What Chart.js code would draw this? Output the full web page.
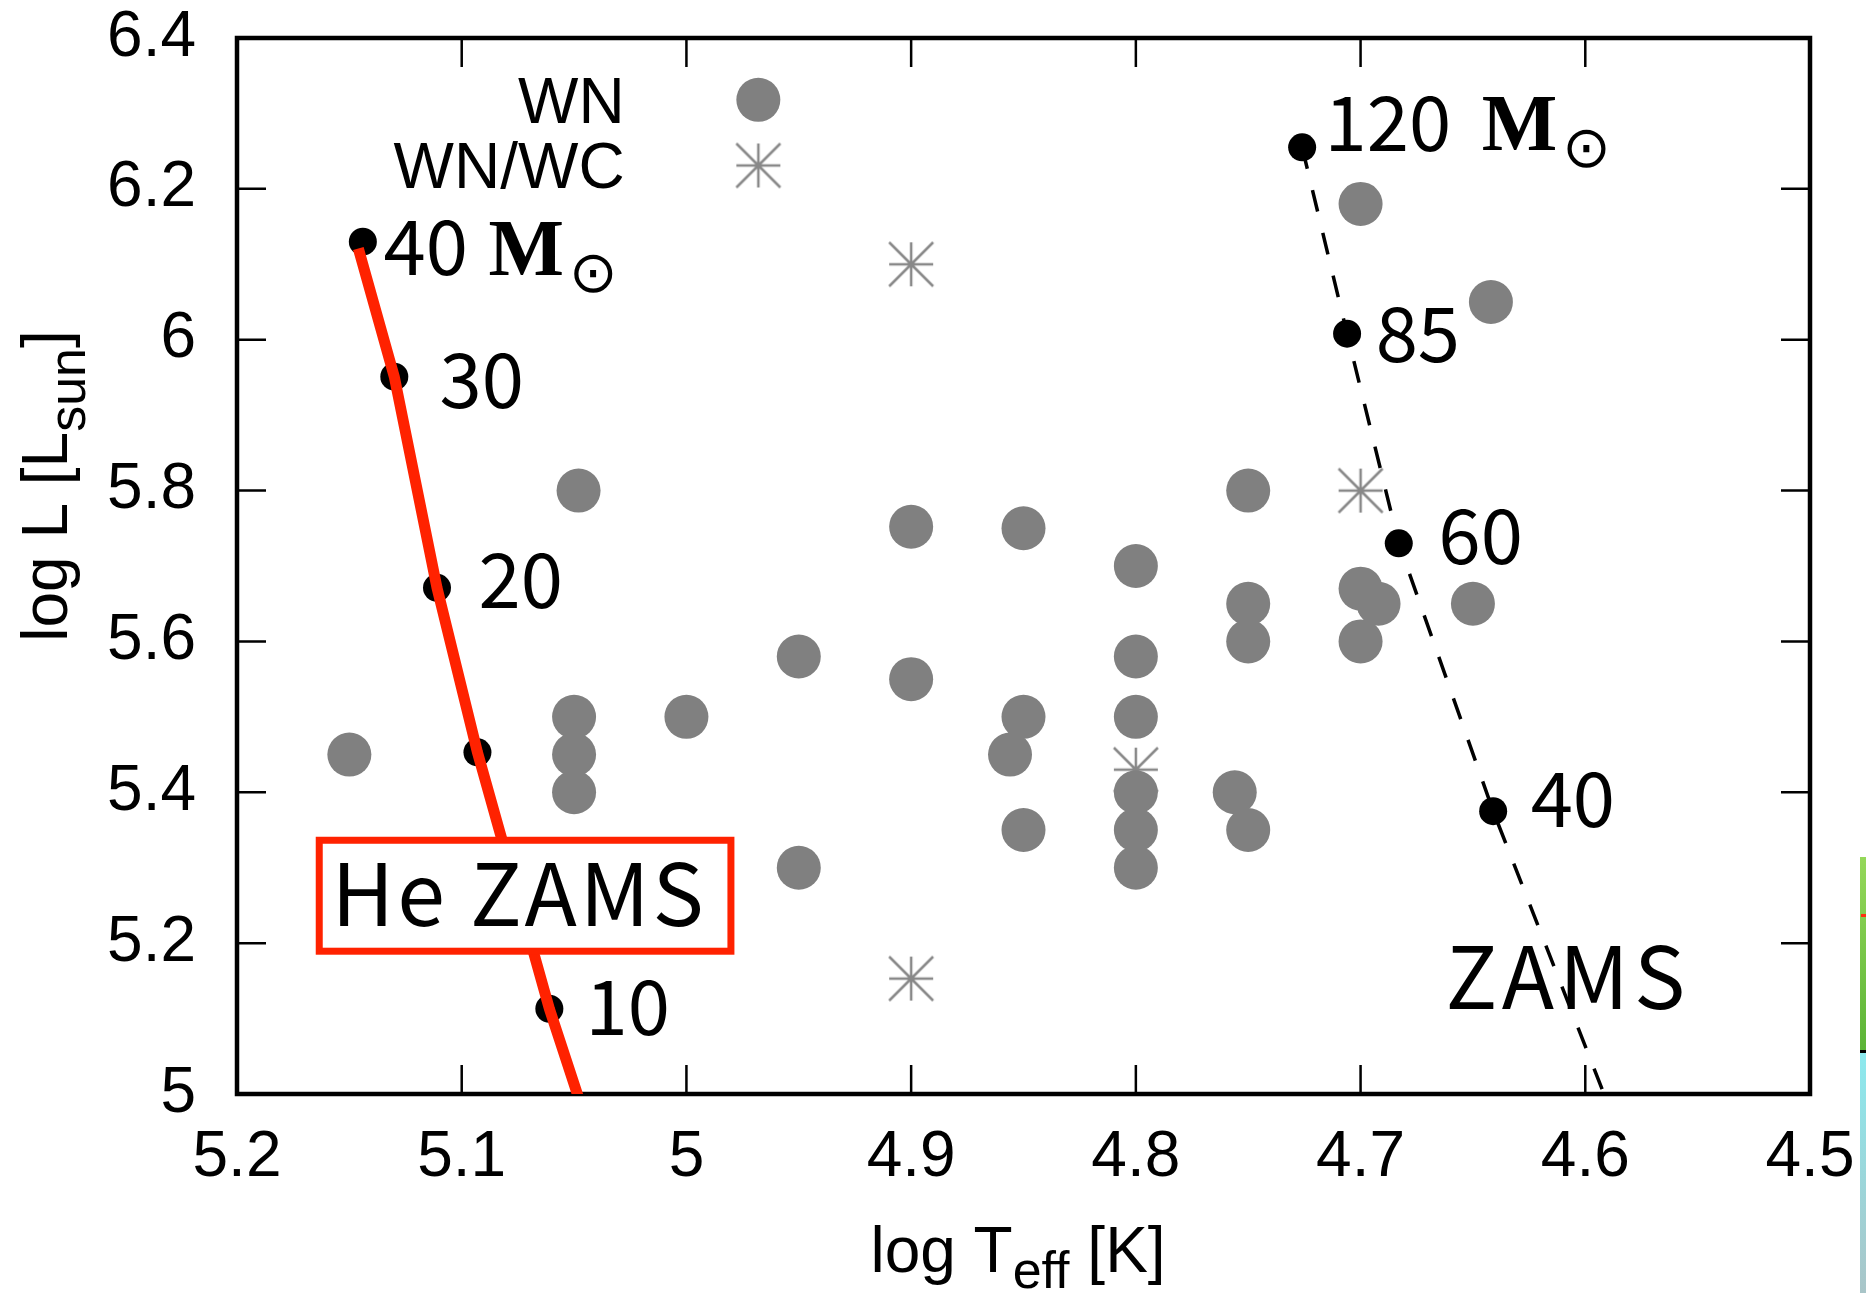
<!DOCTYPE html>
<html>
<head>
<meta charset="utf-8">
<title>HR diagram WN stars</title>
<script src="https://cdn.jsdelivr.net/npm/chart.js@4.4.1/dist/chart.umd.min.js"></script>
<style>
  html, body { margin: 0; padding: 0; background: #fff; }
  #wrap { width: 1866px; height: 1293px; }
</style>
</head>
<body>
<div id="wrap"><canvas id="hr"></canvas></div>
<script>
// WN stars (gray discs): log Teff, log L
const wnTeff = [4.70, 4.642, 5.048, 4.90, 4.85, 4.75, 4.80, 4.75, 4.75, 4.70, 4.692, 4.70, 4.65,
  4.95, 4.90, 4.80, 5.00, 5.05, 5.05, 5.05, 5.15, 4.85, 4.856, 4.80, 4.80, 4.80, 4.80, 4.85, 4.756, 4.75, 4.95];
const wnLum = [6.18, 6.05, 5.80, 5.752, 5.75, 5.80, 5.70, 5.65, 5.60, 5.67, 5.65, 5.60, 5.65,
  5.58, 5.55, 5.58, 5.50, 5.50, 5.45, 5.40, 5.45, 5.50, 5.45, 5.50, 5.40, 5.35, 5.30, 5.35, 5.40, 5.35, 5.30];

// WN/WC stars (asterisks)
const wcTeff = [4.90, 4.70, 4.80, 4.90];
const wcLum = [6.10, 5.80, 5.43, 5.153];

// He ZAMS (red line) and its mass marks
const heLineTeff = [5.146, 5.130, 5.111, 5.093, 5.061, 5.048];
const heLineLum = [6.121, 5.951, 5.671, 5.453, 5.113, 4.995];
const heMarkTeff = [5.144, 5.130, 5.111, 5.093, 5.061];
const heMarkLum = [6.130, 5.951, 5.671, 5.453, 5.113];

// H ZAMS (dashed) and its mass marks
const zLineTeff = [4.726, 4.706, 4.683, 4.641, 4.591];
const zLineLum = [6.255, 6.008, 5.730, 5.375, 4.995];
const zMarkTeff = [4.726, 4.706, 4.683, 4.641];
const zMarkLum = [6.255, 6.008, 5.730, 5.375];

// mass labels (text origin / baseline in data units)
const heLabelText = ['40', '30', '20', '10'];
const heLabelTeff = [5.1348, 5.1099, 5.0925, 5.0449];
const heLabelLum = [6.0859, 5.9096, 5.6445, 5.0786];
const zLabelText = ['120', '85', '60', '40'];
const zLabelTeff = [4.7160, 4.6933, 4.6653, 4.6243];
const zLabelLum = [6.2502, 5.9706, 5.7022, 5.3535];
// "M_sun" after the first label of each track
const sunTeff = [5.0881, 4.6461];
const sunLum = [6.0859, 6.2516];

// axes
const xTicks = [5.2, 5.1, 5.0, 4.9, 4.8, 4.7, 4.6, 4.5];
const xTickLabels = ['5.2', '5.1', '5', '4.9', '4.8', '4.7', '4.6', '4.5'];
const yTicks = [5.0, 5.2, 5.4, 5.6, 5.8, 6.0, 6.2, 6.4];
const yTickLabels = ['5', '5.2', '5.4', '5.6', '5.8', '6', '6.2', '6.4'];

const sans = "'Liberation Sans', Arial, Helvetica, sans-serif";
const jp = "'Noto Sans CJK JP', 'Noto Sans', sans-serif";

const pts = (xs, ys) => xs.map((v, i) => ({ x: v, y: ys[i] }));

function makeStar(r, lw, color) {
  const c = document.createElement('canvas');
  const s = 2 * r + 4;
  c.width = s;
  c.height = s;
  const g = c.getContext('2d');
  const m = s / 2;
  g.strokeStyle = color;
  g.lineWidth = lw;
  g.beginPath();
  g.moveTo(m - r, m); g.lineTo(m + r, m);
  g.moveTo(m, m - r); g.lineTo(m, m + r);
  g.moveTo(m - r, m - r); g.lineTo(m + r, m + r);
  g.moveTo(m + r, m - r); g.lineTo(m - r, m + r);
  g.stroke();
  return c;
}
const star = makeStar(22, 2.5, '#888888');

// frame + inward ticks on all four sides (gnuplot style)
const frameTicks = {
  id: 'frameTicks',
  beforeDatasetsDraw(chart) {
    const { ctx, chartArea: a, scales: { x, y } } = chart;
    ctx.save();
    ctx.strokeStyle = '#000';
    ctx.lineWidth = 2.5;
    ctx.beginPath();
    xTicks.forEach(v => {
      const px = x.getPixelForValue(v);
      ctx.moveTo(px, a.bottom); ctx.lineTo(px, a.bottom - 29);
      ctx.moveTo(px, a.top); ctx.lineTo(px, a.top + 29);
    });
    yTicks.forEach(v => {
      const py = y.getPixelForValue(v);
      ctx.moveTo(a.left, py); ctx.lineTo(a.left + 29, py);
      ctx.moveTo(a.right, py); ctx.lineTo(a.right - 29, py);
    });
    ctx.stroke();
    ctx.lineWidth = 4.5;
    ctx.strokeRect(a.left, a.top, a.width, a.height);
    ctx.restore();
  }
};

function drawParts(ctx, parts, x0, y0) {
  let x = x0;
  parts.forEach(p => {
    ctx.font = p.font;
    ctx.fillText(p.t, x, y0 + (p.dy || 0));
    x += ctx.measureText(p.t).width;
  });
}
function partsWidth(ctx, parts) {
  return parts.reduce((w, p) => { ctx.font = p.font; return w + ctx.measureText(p.t).width; }, 0);
}

const notes = {
  id: 'notes',
  afterDatasetsDraw(chart) {
    const { ctx, chartArea: a, scales: { x, y } } = chart;
    ctx.save();
    ctx.fillStyle = '#000';
    ctx.textAlign = 'left';
    ctx.textBaseline = 'alphabetic';

    ctx.font = '76px ' + jp;
    heLabelText.forEach((t, i) => ctx.fillText(t, x.getPixelForValue(heLabelTeff[i]), y.getPixelForValue(heLabelLum[i])));
    zLabelText.forEach((t, i) => ctx.fillText(t, x.getPixelForValue(zLabelTeff[i]), y.getPixelForValue(zLabelLum[i])));

    // M_sun
    sunTeff.forEach((v, i) => {
      const px = x.getPixelForValue(v);
      const py = y.getPixelForValue(sunLum[i]);
      ctx.font = 'bold 80px "Liberation Serif", "Times New Roman", serif';
      ctx.textBaseline = 'alphabetic';
      ctx.fillText('M', px, py);
      const w = ctx.measureText('M').width;
      ctx.font = '58px "DejaVu Sans", sans-serif';
      ctx.textBaseline = 'middle';
      ctx.fillText('\u2299', px + w + 5, py + 2);
    });
    ctx.textBaseline = 'alphabetic';

    // ZAMS label
    ctx.font = '86px ' + jp;
    ctx.letterSpacing = '5px';
    ctx.fillText('ZAMS', x.getPixelForValue(4.6622), y.getPixelForValue(5.113));

    // He ZAMS boxed label
    const bx0 = x.getPixelForValue(5.1634), bx1 = x.getPixelForValue(4.9802);
    const by0 = y.getPixelForValue(5.3364), by1 = y.getPixelForValue(5.1893);
    ctx.fillStyle = '#fff';
    ctx.fillRect(bx0, by0, bx1 - bx0, by1 - by0);
    ctx.strokeStyle = '#ff2200';
    ctx.lineWidth = 7;
    ctx.strokeRect(bx0, by0, bx1 - bx0, by1 - by0);
    ctx.fillStyle = '#000';
    ctx.letterSpacing = '3px';
    ctx.fillText('He ZAMS', x.getPixelForValue(5.1579), y.getPixelForValue(5.2231));
    ctx.letterSpacing = '0px';

    // key
    ctx.font = '64px ' + sans;
    ctx.textAlign = 'right';
    const kx = x.getPixelForValue(5.0275);
    ctx.fillText('WN', kx, y.getPixelForValue(6.2877));
    ctx.fillText('WN/WC', kx, y.getPixelForValue(6.2012));
    ctx.fillStyle = '#808080';
    ctx.beginPath();
    ctx.arc(x.getPixelForValue(4.968), y.getPixelForValue(6.318), 22, 0, Math.PI * 2);
    ctx.fill();
    ctx.drawImage(star, x.getPixelForValue(4.968) - star.width / 2, y.getPixelForValue(6.231) - star.height / 2);

    // axis titles
    ctx.fillStyle = '#000';
    ctx.textAlign = 'left';
    const main = '64px ' + sans, sub = '52px ' + sans;
    const yt = [{ t: 'log L [L', font: main }, { t: 'sun', font: sub, dy: 18 }, { t: ']', font: main }];
    ctx.save();
    ctx.translate(a.left - 170, a.top + 448);
    ctx.rotate(-Math.PI / 2);
    drawParts(ctx, yt, -partsWidth(ctx, yt) / 2, 0);
    ctx.restore();
    const xt = [{ t: 'log T', font: main }, { t: 'eff', font: sub, dy: 16 }, { t: ' [K]', font: main }];
    drawParts(ctx, xt, a.left + 781 - partsWidth(ctx, xt) / 2, a.bottom + 178);
    ctx.restore();
  },
  afterDraw(chart) {
    // coloured strip at the right edge of the source picture
    const { ctx } = chart;
    ctx.save();
    const g1 = ctx.createLinearGradient(0, 857, 0, 1051);
    g1.addColorStop(0, '#95d85a');
    g1.addColorStop(1, '#5bb437');
    ctx.fillStyle = g1;
    ctx.fillRect(1860, 857, 6, 194);
    ctx.fillStyle = '#ff3010';
    ctx.fillRect(1861, 914, 5, 3);
    ctx.fillStyle = '#000';
    ctx.fillRect(1860, 1050, 6, 3);
    const g2 = ctx.createLinearGradient(0, 1053, 0, 1293);
    g2.addColorStop(0, '#8ce9ee');
    g2.addColorStop(1, '#a9c5c8');
    ctx.fillStyle = g2;
    ctx.fillRect(1860, 1053, 6, 240);
    ctx.restore();
  }
};

const ctx = document.getElementById('hr').getContext('2d');
new Chart(ctx, {
  type: 'scatter',
  data: {
    datasets: [
      {
        label: 'He ZAMS',
        data: pts(heLineTeff, heLineLum),
        showLine: true,
        borderColor: '#ff2200',
        borderWidth: 11,
        pointRadius: 0,
        order: 0
      },
      {
        label: 'He ZAMS masses',
        data: pts(heMarkTeff, heMarkLum),
        pointRadius: 14,
        pointBackgroundColor: '#000',
        pointBorderWidth: 0,
        order: 1
      },
      {
        label: 'ZAMS masses',
        data: pts(zMarkTeff, zMarkLum),
        pointRadius: 14,
        pointBackgroundColor: '#000',
        pointBorderWidth: 0,
        order: 1
      },
      {
        label: 'ZAMS',
        data: pts(zLineTeff, zLineLum),
        showLine: true,
        borderColor: '#000',
        borderWidth: 3.5,
        borderDash: [22, 22],
        pointRadius: 0,
        order: 2
      },
      {
        label: 'WN',
        data: pts(wnTeff, wnLum),
        pointRadius: 22,
        pointBackgroundColor: '#808080',
        pointBorderWidth: 0,
        order: 3
      },
      {
        label: 'WN/WC',
        data: pts(wcTeff, wcLum),
        pointStyle: star,
        order: 4
      }
    ]
  },
  options: {
    responsive: true,
    maintainAspectRatio: false,
    animation: false,
    events: [],
    layout: { padding: { top: 38, right: 56, left: 0, bottom: 0 } },
    plugins: {
      legend: { display: false },
      tooltip: { enabled: false }
    },
    scales: {
      x: {
        type: 'linear',
        reverse: true,
        min: 4.5,
        max: 5.2,
        afterBuildTicks: s => { s.ticks = xTicks.map(v => ({ value: v })); },
        afterFit: s => { s.height = 199; },
        // invisible tick marks only used to push the labels away from the frame
        grid: { display: true, drawOnChartArea: false, drawTicks: true, tickLength: 32, tickColor: 'rgba(0,0,0,0)' },
        border: { display: false },
        ticks: {
          color: '#000',
          font: { family: sans, size: 64, lineHeight: 1 },
          padding: 0,
          maxRotation: 0,
          autoSkip: false,
          callback: v => xTickLabels[xTicks.indexOf(v)]
        }
      },
      y: {
        type: 'linear',
        min: 5,
        max: 6.4,
        afterBuildTicks: s => { s.ticks = yTicks.map(v => ({ value: v })); },
        afterFit: s => { s.width = 237; },
        grid: { display: true, drawOnChartArea: false, drawTicks: true, tickLength: 41, tickColor: 'rgba(0,0,0,0)' },
        border: { display: false },
        ticks: {
          color: '#000',
          font: { family: sans, size: 64, lineHeight: 1 },
          padding: 0,
          autoSkip: false,
          callback: v => yTickLabels[yTicks.indexOf(v)]
        }
      }
    }
  },
  plugins: [frameTicks, notes]
});
</script>
</body>
</html>
